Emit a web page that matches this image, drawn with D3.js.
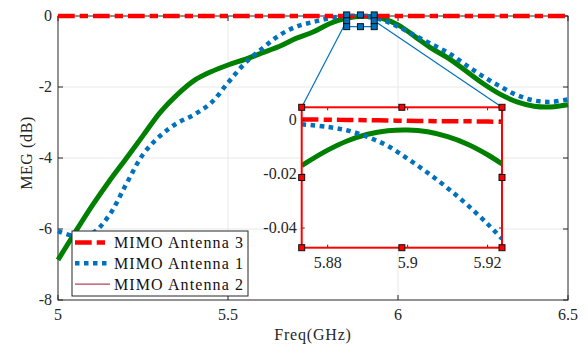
<!DOCTYPE html>
<html>
<head>
<meta charset="utf-8">
<script src="https://cdn.jsdelivr.net/npm/d3@7"></script>
<style>
  html, body { margin: 0; padding: 0; background: #fff; }
  svg { display: block; }
</style>
</head>
<body>
<svg id="chart" width="587" height="348" font-family="'Liberation Serif', 'Times New Roman', serif"></svg>
<script>
// Frequency samples (GHz) for the full-band curves
const freq = [5.00, 5.05, 5.10, 5.15, 5.20, 5.25, 5.30, 5.35, 5.40, 5.45, 5.50,
              5.55, 5.60, 5.65, 5.70, 5.75, 5.80, 5.85, 5.90, 5.95, 6.00,
              6.05, 6.10, 6.15, 6.20, 6.25, 6.30, 6.35, 6.40, 6.45, 6.50];

// MEG (dB) per antenna
const antenna3 = [0.002, 0.002, 0.002, 0.002, 0.001, 0.001, 0.001, 0.001, 0.001, 0.001, 0.001,
                  0.001, 0.001, 0.000, 0.000, 0.000, 0.000, 0.000, 0.000, 0.000, -0.001,
                  -0.001, -0.001, -0.001, -0.001, -0.001, -0.002, -0.002, -0.002, -0.002, -0.002];
const antenna1 = [-6.06, -6.20, -6.13, -5.62, -4.75, -3.90, -3.38, -3.02, -2.78, -2.45, -1.88,
                  -1.33, -0.92, -0.55, -0.30, -0.17, -0.06, -0.005, -0.015, -0.10, -0.30,
                  -0.55, -0.80, -1.05, -1.38, -1.70, -1.98, -2.23, -2.38, -2.42, -2.35];
const antenna2 = [-6.87, -6.10, -5.35, -4.66, -4.02, -3.37, -2.72, -2.22, -1.82, -1.57, -1.38,
                  -1.22, -1.04, -0.86, -0.63, -0.45, -0.21, -0.055, -0.004, -0.06, -0.25,
                  -0.58, -0.92, -1.20, -1.55, -1.90, -2.20, -2.42, -2.54, -2.56, -2.50];

// Close-up samples around the peak
const insetFreq = [5.8735, 5.880, 5.885, 5.890, 5.895, 5.900, 5.905, 5.910, 5.915, 5.920, 5.9236];
const insetAntenna3 = [0.0003, 0.0002, 0.0001, 0.0000, -0.0001, -0.0002, -0.0003, -0.0004, -0.0004, -0.0005, -0.0006];
const insetAntenna1 = [-0.0015, -0.0025, -0.0038, -0.0062, -0.0095, -0.0143, -0.0195, -0.0252, -0.0315, -0.0385, -0.0440];
const insetAntenna2 = [-0.0168, -0.0111, -0.0076, -0.0052, -0.0039, -0.0036, -0.0043, -0.0061, -0.0089, -0.0128, -0.0162];

// Ticks
const xTicks = [5, 5.5, 6, 6.5];
const xTickLabels = ["5", "5.5", "6", "6.5"];
const yTicks = [0, -2, -4, -6, -8];
const yTickLabels = ["0", "-2", "-4", "-6", "-8"];
const insetXTicks = [5.88, 5.90, 5.92];
const insetXTickLabels = ["5.88", "5.9", "5.92"];
const insetYTicks = [0, -0.02, -0.04];
const insetYTickLabels = ["0", "-0.02", "-0.04"];

// Legend entries
const legendLabels = ["MIMO Antenna 3", "MIMO Antenna 1", "MIMO Antenna 2"];

// Region of the main axes that the close-up enlarges
const zoomRegion = { x0: 5.849, x1: 5.930, y0: -0.30, y1: 0.03 };

const svg = d3.select("#chart");
const axisColor = "#262626";
const gridColor = "#e8e8e8";
const tickFont = 16;
const labelFont = 16;

const styles = {
  a3: { stroke: "#ff0000", width: 4.5, dash: "16.7,5,8.3,5" },
  a1: { stroke: "#0072bd", width: 4.5, dash: "4.5,4.5" },
  a2: { stroke: "#008000", width: 5, dash: null },
  legendA2: { stroke: "#a2142f", width: 1, dash: null }
};

// ---------- main axes ----------
const x = d3.scaleLinear().domain([5, 6.5]).range([58, 568]);
const y = d3.scaleLinear().domain([-8, 0]).range([300, 16]);

const grid = svg.append("g");
grid.selectAll("line.gx").data(xTicks.slice(1, -1)).join("line")
  .attr("x1", d => x(d)).attr("x2", d => x(d))
  .attr("y1", y(0)).attr("y2", y(-8))
  .attr("stroke", gridColor).attr("stroke-width", 1);
grid.selectAll("line.gy").data(yTicks.slice(1, -1)).join("line")
  .attr("x1", x(5)).attr("x2", x(6.5))
  .attr("y1", d => y(d)).attr("y2", d => y(d))
  .attr("stroke", gridColor).attr("stroke-width", 1);

const frame = svg.append("g");
frame.append("rect")
  .attr("x", x(5)).attr("y", y(0))
  .attr("width", x(6.5) - x(5)).attr("height", y(-8) - y(0))
  .attr("fill", "none").attr("stroke", axisColor).attr("stroke-width", 1);

// inward tick marks on all four sides
const tl = 5;
xTicks.forEach(t => {
  frame.append("line").attr("x1", x(t)).attr("x2", x(t)).attr("y1", y(-8)).attr("y2", y(-8) - tl)
    .attr("stroke", axisColor);
  frame.append("line").attr("x1", x(t)).attr("x2", x(t)).attr("y1", y(0)).attr("y2", y(0) + tl)
    .attr("stroke", axisColor);
});
yTicks.forEach(t => {
  frame.append("line").attr("x1", x(5)).attr("x2", x(5) + tl).attr("y1", y(t)).attr("y2", y(t))
    .attr("stroke", axisColor);
  frame.append("line").attr("x1", x(6.5)).attr("x2", x(6.5) - tl).attr("y1", y(t)).attr("y2", y(t))
    .attr("stroke", axisColor);
});

// tick labels
svg.append("g").selectAll("text").data(xTicks).join("text")
  .attr("x", d => x(d)).attr("y", y(-8) + 20)
  .attr("text-anchor", "middle").attr("font-size", tickFont).attr("fill", axisColor)
  .text((d, i) => xTickLabels[i]);
svg.append("g").selectAll("text").data(yTicks).join("text")
  .attr("x", x(5) - 6).attr("y", d => y(d) + 5)
  .attr("text-anchor", "end").attr("font-size", tickFont).attr("fill", axisColor)
  .text((d, i) => yTickLabels[i]);

// axis titles
svg.append("text")
  .attr("x", (x(5) + x(6.5)) / 2).attr("y", 340)
  .attr("text-anchor", "middle").attr("font-size", labelFont).attr("letter-spacing", 0.8)
  .attr("fill", axisColor)
  .text("Freq(GHz)");
svg.append("text")
  .attr("transform", `translate(32, ${(y(0) + y(-8)) / 2 - 5}) rotate(-90)`)
  .attr("text-anchor", "middle").attr("font-size", labelFont).attr("letter-spacing", 0.6)
  .attr("fill", axisColor)
  .text("MEG (dB)");

// curves
function drawSeries(g, xs, ys, sx, sy, st) {
  const line = d3.line().x(d => sx(d[0])).y(d => sy(d[1])).curve(d3.curveCatmullRom.alpha(0.5));
  const p = g.append("path")
    .attr("d", line(xs.map((v, i) => [v, ys[i]])))
    .attr("fill", "none")
    .attr("stroke", st.stroke)
    .attr("stroke-width", st.width)
    .attr("stroke-linejoin", "round");
  if (st.dash) p.attr("stroke-dasharray", st.dash);
  return p;
}

const curves = svg.append("g");
drawSeries(curves, freq, antenna2, x, y, styles.a2);
drawSeries(curves, freq, antenna1, x, y, styles.a1);
drawSeries(curves, freq, antenna3, x, y, styles.a3);

// ---------- close-up ----------
const ix = d3.scaleLinear().domain([5.8735, 5.9236]).range([301.7, 502]);
const iy = d3.scaleLinear().domain([-0.0473, 0.0048]).range([247.7, 107.3]);

const zx0 = x(zoomRegion.x0), zx1 = x(zoomRegion.x1);
const zy0 = y(zoomRegion.y1), zy1 = y(zoomRegion.y0);
const zmy = (zy0 + zy1) / 2;
const [ix0, ix1] = ix.range();
const [iyB, iyT] = iy.range();

const links = svg.append("g");
links.append("line").attr("x1", zx0).attr("y1", zmy).attr("x2", ix0).attr("y2", iyT)
  .attr("stroke", "#0072bd").attr("stroke-width", 1.2);
links.append("line").attr("x1", zx1).attr("y1", zmy).attr("x2", ix1).attr("y2", iyT)
  .attr("stroke", "#0072bd").attr("stroke-width", 1.2);

// source rectangle with handles
const src = svg.append("g");
src.append("rect").attr("x", zx0).attr("y", zy0).attr("width", zx1 - zx0).attr("height", zy1 - zy0)
  .attr("fill", "none").attr("stroke", "#0072bd").attr("stroke-width", 1.2);
function handles(g, xa, xb, ya, yb, fill) {
  const xm = (xa + xb) / 2, ym = (ya + yb) / 2;
  const pts = [[xa, ya], [xm, ya], [xb, ya], [xa, ym], [xb, ym], [xa, yb], [xm, yb], [xb, yb]];
  g.selectAll("rect.h").data(pts).join("rect")
    .attr("x", d => d[0] - 3).attr("y", d => d[1] - 3)
    .attr("width", 6).attr("height", 6)
    .attr("fill", fill).attr("stroke", "#111").attr("stroke-width", 1);
}
handles(src.append("g"), zx0, zx1, zy0, zy1, "#0072bd");

// close-up panel
const inset = svg.append("g");
inset.append("rect").attr("x", ix0).attr("y", iyT).attr("width", ix1 - ix0).attr("height", iyB - iyT)
  .attr("fill", "#fff");
svg.append("clipPath").attr("id", "insetClip").append("rect")
  .attr("x", ix0).attr("y", iyT).attr("width", ix1 - ix0).attr("height", iyB - iyT);
const insetCurves = inset.append("g").attr("clip-path", "url(#insetClip)");
drawSeries(insetCurves, insetFreq, insetAntenna2, ix, iy, styles.a2);
drawSeries(insetCurves, insetFreq, insetAntenna1, ix, iy, styles.a1);
drawSeries(insetCurves, insetFreq, insetAntenna3, ix, iy, styles.a3);

const itl = 3;
insetXTicks.forEach(t => {
  inset.append("line").attr("x1", ix(t)).attr("x2", ix(t)).attr("y1", iyB).attr("y2", iyB - itl).attr("stroke", axisColor);
  inset.append("line").attr("x1", ix(t)).attr("x2", ix(t)).attr("y1", iyT).attr("y2", iyT + itl).attr("stroke", axisColor);
});
insetYTicks.forEach(t => {
  inset.append("line").attr("x1", ix0).attr("x2", ix0 + itl).attr("y1", iy(t)).attr("y2", iy(t)).attr("stroke", axisColor);
  inset.append("line").attr("x1", ix1).attr("x2", ix1 - itl).attr("y1", iy(t)).attr("y2", iy(t)).attr("stroke", axisColor);
});
inset.append("rect").attr("x", ix0).attr("y", iyT).attr("width", ix1 - ix0).attr("height", iyB - iyT)
  .attr("fill", "none").attr("stroke", "#ff0000").attr("stroke-width", 2);
handles(inset.append("g"), ix0, ix1, iyT, iyB, "#ff0000");

inset.append("g").selectAll("text").data(insetXTicks).join("text")
  .attr("x", d => ix(d)).attr("y", iyB + 20)
  .attr("text-anchor", "middle").attr("font-size", tickFont).attr("fill", axisColor)
  .text((d, i) => insetXTickLabels[i]);
inset.append("g").selectAll("text").data(insetYTicks).join("text")
  .attr("x", ix0 - 5).attr("y", d => iy(d) + 5)
  .attr("text-anchor", "end").attr("font-size", tickFont).attr("fill", axisColor)
  .text((d, i) => insetYTickLabels[i]);

// ---------- legend ----------
const legend = svg.append("g");
const lgX = 72, lgY = 231, lgW = 176, lgH = 65;
legend.append("rect").attr("x", lgX).attr("y", lgY).attr("width", lgW).attr("height", lgH)
  .attr("fill", "#fff").attr("stroke", axisColor).attr("stroke-width", 1);
const legendStyles = [styles.a3, styles.a1, styles.legendA2];
legendLabels.forEach((lab, i) => {
  const cy = lgY + 11.5 + i * 20.8;
  const st = legendStyles[i];
  const l = legend.append("line").attr("x1", lgX + 3).attr("x2", lgX + 38).attr("y1", cy).attr("y2", cy)
    .attr("stroke", st.stroke).attr("stroke-width", st.width);
  if (st.dash) l.attr("stroke-dasharray", st.dash);
  legend.append("text").attr("x", lgX + 42).attr("y", cy + 5.5)
    .attr("font-size", labelFont).attr("letter-spacing", 1.1)
    .attr("fill", "#111").text(lab);
});
</script>
</body>
</html>
